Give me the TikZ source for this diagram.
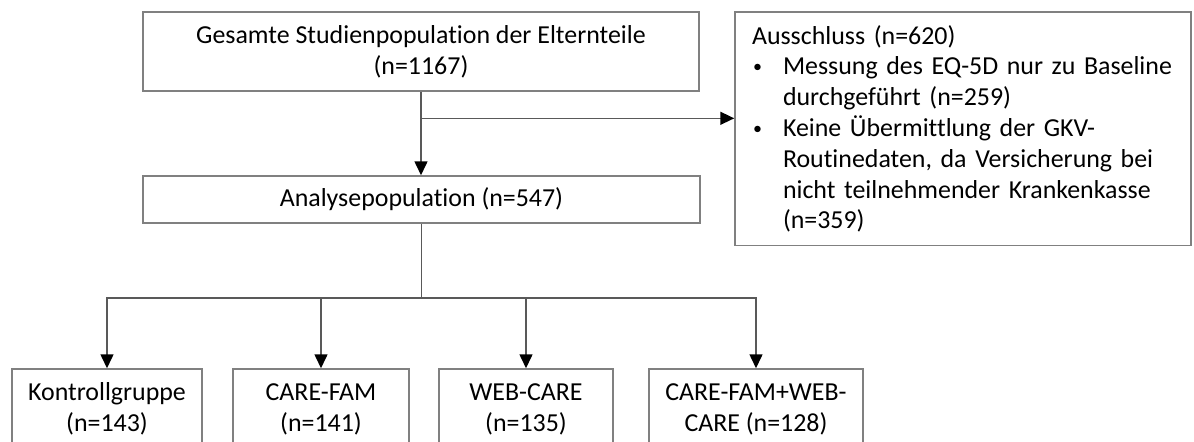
\documentclass[tikz,border=0pt]{standalone}
\usepackage{fontspec}
\setmainfont{Carlito}[Ligatures={NoCommon}]
\usetikzlibrary{calc,arrows.meta}

\definecolor{boxgray}{RGB}{128,128,128}
\definecolor{linegray}{RGB}{89,89,89}
\newcommand{\flowfont}{\fontsize{12.95pt}{15.4pt}\selectfont}
\newcommand{\flowbullet}{\makebox[15.5pt][l]{\hspace*{0.5pt}\raisebox{1pt}{\fontsize{9pt}{9pt}\selectfont\textbullet}}}

\tikzset{
  flowbox/.style={draw=boxgray, line width=0.75pt, inner sep=0pt, align=center,
    text=black, font=\flowfont},
  flowline/.style={draw=linegray, line width=0.75pt},
  flowarrow/.style={flowline, -{Triangle[length=7pt,width=6.5pt,color=black]}}
}

\begin{document}
\begin{tikzpicture}[x=0.5pt,y=-0.5pt]
  \useasboundingbox (0,0) rectangle (1194,441);

  %% Boxes of the flow chart
  \node[flowbox, minimum width=278pt, minimum height=39.5pt] (total) at (421,51.5)
    {Gesamte Studienpopulation der Elternteile\\(n=1167)};
  \node[flowbox, minimum width=278.5pt, minimum height=23.5pt] (analysis) at (421.5,199.5)
    {Analysepopulation (n=547)};
  \node[flowbox, minimum width=228pt, minimum height=116.8pt, text width=211pt, align=left] (excl) at (963,128.8)
    {Ausschluss (n=620)\par
     \hangindent=15.5pt\hangafter=1\flowbullet Messung des EQ-5D nur zu Baseline\newline
     durchgeführt (n=259)\par
     \hangindent=15.5pt\hangafter=1\flowbullet Keine Übermittlung der GKV-\newline
     Routinedaten, da Versicherung bei\newline
     nicht teilnehmender Krankenkasse\newline
     (n=359)\par};

  %% Connectors between the boxes
  \coordinate (split1) at ($(total.south)!0.318!(analysis.north)$);
  \coordinate (split2) at ($(analysis.south)+(0,74)$);
  \draw[flowarrow] (total.south) -- (total.south |- analysis.north);
  \draw[flowarrow] (split1) -- (split1 -| excl.west);
  \draw[flowline] (analysis.south) -- (split2);

  %% Study groups
  \foreach \grp/\xpos/\boxw/\txt in {ctrl/107/95pt/{Kontrollgruppe\\(n=143)},
      fam/321/88pt/{CARE-FAM\\(n=141)}, web/526/87pt/{WEB-CARE\\(n=135)},
      both/756/107pt/{CARE-FAM+WEB-\\CARE (n=128)}}
  {
    \node[flowbox, minimum width=\boxw, minimum height=40pt] (\grp) at (\xpos,409) {\txt};
    \draw[flowarrow] (split2) -| (\grp.north);
  }
\end{tikzpicture}
\end{document}
